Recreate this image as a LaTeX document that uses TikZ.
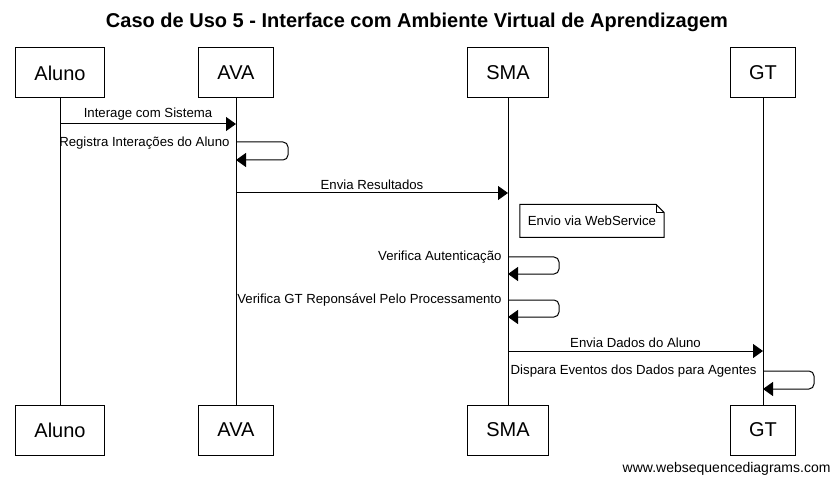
\documentclass[tikz,border=0pt]{standalone}
\usepackage{fontspec}
\setmainfont{Liberation Sans}
\usetikzlibrary{arrows.meta, positioning, calc}

\begin{document}
\begin{tikzpicture}[
    x=1pt,
    y=-1pt,
    line width=1pt,
    >={Triangle[length=10pt, width=14pt]},
    actor/.style={draw, line width=1pt, minimum height=50pt, inner xsep=19pt, font=\fontsize{20}{24}\selectfont},
    msg/.style={->, line width=1pt},
    selfmsg/.style={->, line width=1pt, rounded corners=5pt},
    lbl/.style={inner sep=0pt, font=\fontsize{13.2}{15}\selectfont},
    note/.style={inner xsep=7.5pt, minimum height=32pt, font=\fontsize{13.2}{15}\selectfont}
]
\useasboundingbox (0,0) rectangle (832,478);
% Title
\node[font=\bfseries\fontsize{20}{24}\selectfont] (title) at (417,22) {Caso de Uso 5 - Interface com Ambiente Virtual de Aprendizagem};
% Participants and lifelines
\foreach \name/\txt/\x in {aluno/Aluno/60, ava/AVA/236, sma/SMA/508, gt/GT/763} {
    \node[actor] (\name T) at (\x,73) {\txt};
    \node[actor] (\name B) at (\x,430) {\txt};
    \draw (\name T) -- (\name B);
}
% Messages
\draw[msg] (alunoT |- 0,124) -- (avaT |- 0,124) node[lbl, midway, above=3pt] {Interage com Sistema};
\draw[selfmsg] (avaT |- 0,142) -- ++(52,0) -- ++(0,18) -- (avaT |- 0,160);
\node[lbl, anchor=east] (reg) at ([xshift=-6pt]avaT |- 0,143) {Registra Interações do Aluno};
\draw[msg] (avaT |- 0,193) -- (smaT |- 0,193) node[lbl, midway, above=3pt] {Envia Resultados};
% Note
\node[note] (ws) at (592,221) {Envio via WebService};
\draw (ws.north west) -- ([xshift=-8pt]ws.north east) -- ([yshift=-8pt]ws.north east) -- (ws.south east) -- (ws.south west) -- cycle;
\draw ([xshift=-8pt]ws.north east) -- ([xshift=-8pt, yshift=-8pt]ws.north east) -- ([yshift=-8pt]ws.north east);
% SMA self messages
\draw[selfmsg] (smaT |- 0,257) -- ++(51,0) -- ++(0,17) -- (smaT |- 0,274);
\node[lbl, anchor=east] (aut) at ([xshift=-6pt]smaT |- 0,257) {Verifica Autenticação};
\draw[selfmsg] (smaT |- 0,300) -- ++(51,0) -- ++(0,17) -- (smaT |- 0,317);
\node[lbl, anchor=east] (proc) at ([xshift=-6pt]smaT |- 0,300) {Verifica GT Reponsável Pelo Processamento};
\draw[msg] (smaT |- 0,351) -- (gtT |- 0,351) node[lbl, midway, above=3pt] {Envia Dados do Aluno};
\draw[selfmsg] (gtT |- 0,371) -- ++(51,0) -- ++(0,18) -- (gtT |- 0,389);
\node[lbl, anchor=east] (disp) at ([xshift=-6pt]gtT |- 0,371) {Dispara Eventos dos Dados para Agentes};
% Footer
\node[anchor=east, inner sep=0pt, font=\fontsize{14}{16}\selectfont] (site) at (831,469) {www.websequencediagrams.com};
\end{tikzpicture}
\end{document}
